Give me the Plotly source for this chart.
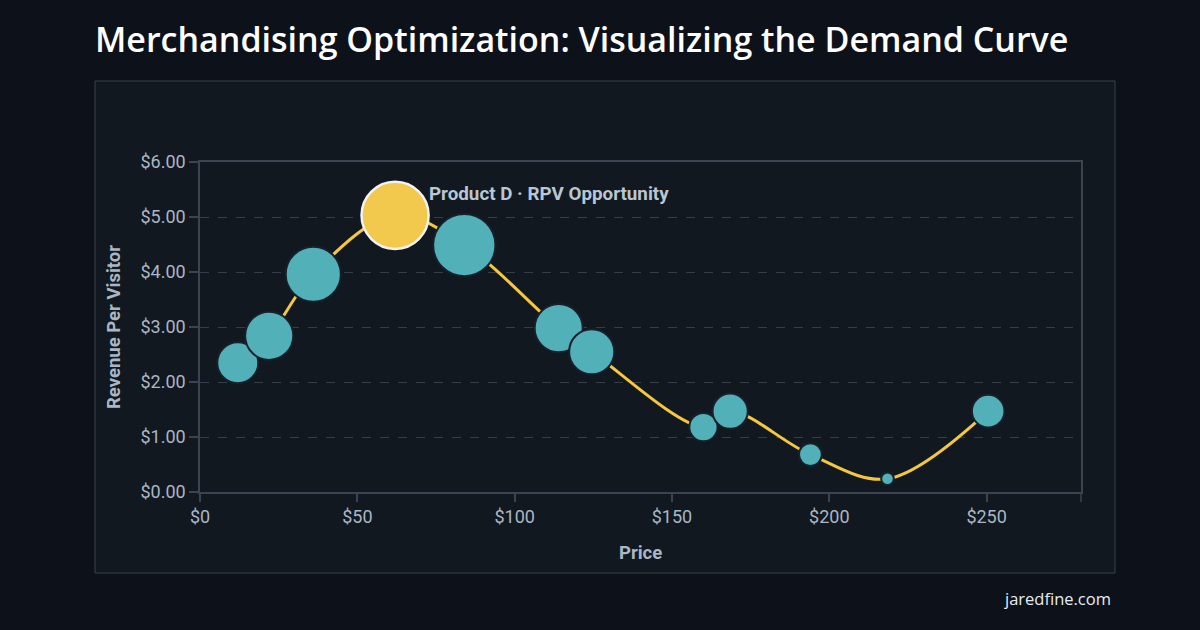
import plotly.graph_objects as go

# ---- data ----
product_names = ["A", "B", "C", "D", "E", "F", "G", "H", "I", "J", "K", "L"]
price = [12, 22, 36, 62, 84, 114, 124.5, 160, 168.5, 194, 218.5, 250.5]
rpv = [2.35, 2.84, 3.96, 5.03, 4.49, 2.98, 2.55, 1.18, 1.47, 0.68, 0.24, 1.47]
sessions_k = [84, 116, 152, 225, 194, 116, 102, 40, 62, 26, 8, 53]
highlight = "D"
highlight_label = "Product D · RPV Opportunity"
x_ticks = [0, 50, 100, 150, 200, 250]
y_ticks = [0, 1, 2, 3, 4, 5, 6]

BG = "#0d121a"
PANEL = "#111820"
TEAL = "#52b0b8"
GOLD = "#f2c94c"
CURVE = "#f4c73e"
AXIS = "#3b4450"
TXT = "#aab6c4"

hi = product_names.index(highlight)
others = [i for i in range(len(price)) if i != hi]

fig = go.Figure()
fig.add_trace(go.Scatter(
    x=price, y=rpv, mode="lines",
    line=dict(color=CURVE, width=3, shape="spline", smoothing=1.0),
    hoverinfo="skip", showlegend=False))
fig.add_trace(go.Scatter(
    x=[price[i] for i in others], y=[rpv[i] for i in others], mode="markers",
    marker=dict(size=[sessions_k[i] for i in others], sizemode="area", sizeref=0.1,
                color=TEAL, line=dict(color="#18212b", width=2), opacity=1),
    showlegend=False))
fig.add_trace(go.Scatter(
    x=[price[hi]], y=[rpv[hi]], mode="markers",
    marker=dict(size=[sessions_k[hi]], sizemode="area", sizeref=0.1, opacity=1,
                color=GOLD, line=dict(color="#f2f2f2", width=2.5)),
    showlegend=False))

fig.add_annotation(x=price[hi], y=rpv[hi], text=highlight_label, showarrow=False,
                   xanchor="left", yanchor="middle", xshift=32, yshift=21,
                   font=dict(family="Roboto", size=18.8, color="#b9c6d4", weight="bold"))

# panel card
fig.add_shape(type="rect", xref="paper", yref="paper",
              x0=(95 - 200) / 881, x1=(1115 - 200) / 881,
              y0=(492 - 573) / 330, y1=(492 - 81) / 330,
              fillcolor=PANEL, line=dict(color="#3a4048", width=1), layer="below")
# right frame extension
fig.add_shape(type="line", xref="paper", yref="paper", x0=1, x1=1, y0=0, y1=-10 / 330,
              line=dict(color=AXIS, width=1.5))

fig.add_annotation(xref="paper", yref="paper", x=(114 - 200) / 881, y=0.5,
                   xanchor="center", yanchor="middle",
                   text="Revenue Per Visitor", textangle=-90, showarrow=False,
                   font=dict(family="Roboto", size=18.5, color="#a9b6c5", weight="bold"))
fig.add_annotation(xref="paper", yref="paper", x=(640 - 200) / 881, y=(492 - 553) / 330,
                   xanchor="center", yanchor="middle",
                   text="Price", showarrow=False,
                   font=dict(family="Roboto", size=18.5, color="#a9b6c5", weight="bold"))
fig.add_annotation(xref="paper", yref="paper", x=(1113 - 200) / 881, y=(492 - 598) / 330,
                   text="jaredfine.com", showarrow=False, xanchor="right", yanchor="middle",
                   font=dict(family="Open Sans", size=16.5, color="#e8ecf0"))

fig.update_layout(
    width=1200, height=630,
    paper_bgcolor=BG, plot_bgcolor=PANEL,
    margin=dict(l=200, r=119, t=162, b=138),
    title=dict(text="Merchandising Optimization: Visualizing the Demand Curve",
               xref="container", yref="container", x=95 / 1200, xanchor="left",
               y=1 - 40 / 630, yanchor="middle",
               font=dict(family="Open Sans", size=34, color="#ffffff", weight=600)),
    xaxis=dict(range=[0, 280], tickvals=x_ticks,
               ticktext=[f"${v}" for v in x_ticks],
               showgrid=False, zeroline=False, showline=True, mirror=True,
               linecolor=AXIS, linewidth=1.5, ticks="outside", ticklen=8,
               tickcolor=AXIS, tickwidth=1.5,
               tickfont=dict(family="Roboto", size=18, color=TXT)),
    yaxis=dict(range=[0, 6], tickvals=y_ticks,
               ticktext=[f"${v:.2f}" for v in y_ticks],
               showgrid=True, gridcolor="#343d49", griddash="dash", gridwidth=1,
               zeroline=False, showline=True, mirror=True,
               linecolor=AXIS, linewidth=1.5, ticks="outside", ticklen=9,
               tickcolor=AXIS, tickwidth=1.5,
               tickfont=dict(family="Roboto", size=18, color=TXT)),
)

fig.write_html("out.html")
